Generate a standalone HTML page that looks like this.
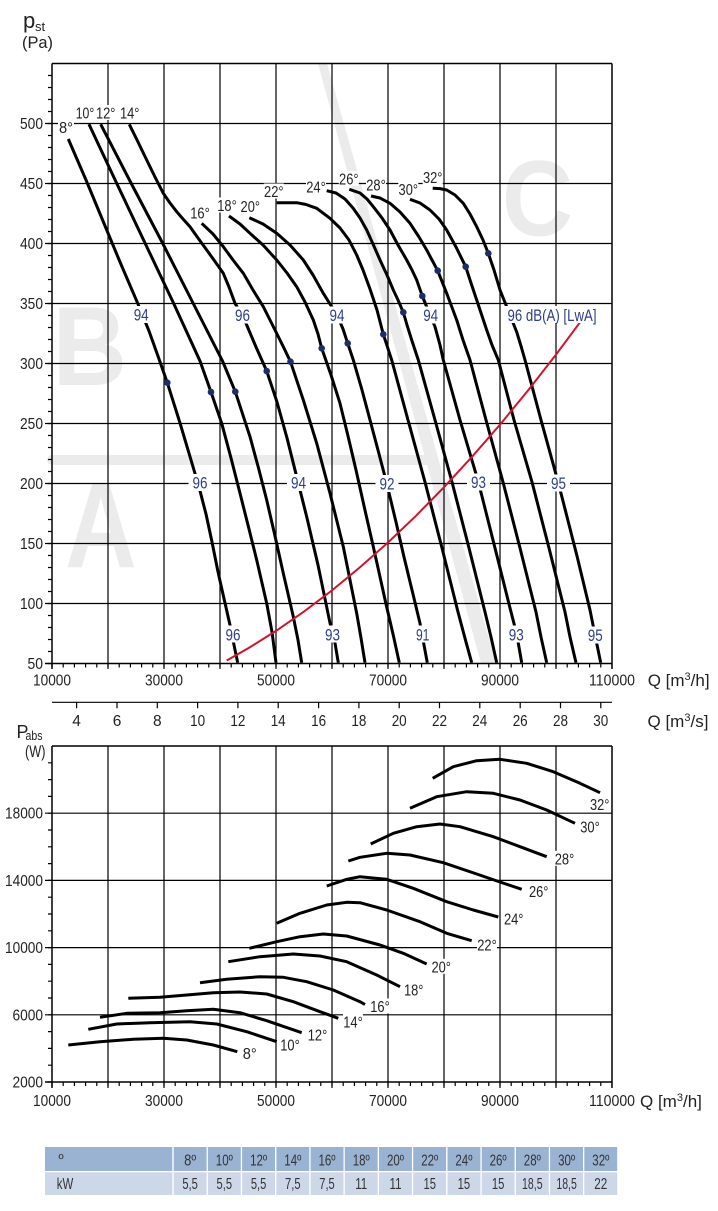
<!DOCTYPE html>
<html><head><meta charset="utf-8"><style>
html,body{margin:0;padding:0;background:#fff;}
svg{display:block;font-family:"Liberation Sans",Arial,sans-serif;}
</style></head><body>
<svg width="718" height="1211" viewBox="0 0 718 1211" xmlns="http://www.w3.org/2000/svg">
<rect width="718" height="1211" fill="#fff"/>
<!-- watermark -->
<g fill="#ebebeb">
<polygon points="318,63.5 327,63.5 496,663.5 481,663.5"/>
<rect x="47" y="455" width="385" height="10" rx="5"/>
<text transform="translate(52.5,385) scale(0.92,1)" font-size="112" font-weight="bold">B</text>
<text transform="translate(65,567) scale(0.82,1)" font-size="121" font-weight="bold">A</text>
<text transform="translate(502,235.4) scale(0.91,1)" font-size="108" font-weight="bold">C</text>
</g>
<!-- top chart grid -->
<g stroke="#000" stroke-width="1.2" fill="none">
<path d="M108 63.5V669M164 63.5V669M220 63.5V669M276 63.5V669M332 63.5V669M388 63.5V669M444 63.5V669M500 63.5V669M556 63.5V669"/>
<path d="M45 123.5H612M45 183.5H612M45 243.5H612M45 303.5H612M45 363.5H612M45 423.5H612M45 483.5H612M45 543.5H612M45 603.5H612"/>
<path stroke-width="1.5" d="M52 63.5H612M52 63.5V669M612 63.5V669M45 663.5H612"/>
<line x1="51.4" y1="665.5" x2="612" y2="665.5" stroke-width="4" stroke-dasharray="1.2 10"/>
<line x1="50" y1="664.1" x2="50" y2="70" stroke-width="4" stroke-dasharray="1.2 10.8"/>
<path d="M52 702.3H612M76.6 702.3v6M117 702.3v6M157.3 702.3v6M197.6 702.3v6M237.9 702.3v6M278.2 702.3v6M318.6 702.3v6M358.9 702.3v6M399.2 702.3v6M439.5 702.3v6M479.8 702.3v6M520.2 702.3v6M560.5 702.3v6M600.8 702.3v6"/>
</g>
<!-- bottom chart grid -->
<g stroke="#000" stroke-width="1.2" fill="none">
<path d="M108 746V1088M164 746V1088M220 746V1088M276 746V1088M332 746V1088M388 746V1088M444 746V1088M500 746V1088M556 746V1088"/>
<path d="M45 813.2H612M45 880.4H612M45 947.6H612M45 1014.8H612"/>
<path stroke-width="1.5" d="M52 746H612M52 746V1088M612 746V1088M45 1082H612"/>
<line x1="51.4" y1="1084" x2="612" y2="1084" stroke-width="4" stroke-dasharray="1.2 10"/>
<line x1="50" y1="1082.6" x2="50" y2="755" stroke-width="4" stroke-dasharray="1.2 15.6"/>
</g>
<!-- axis labels -->
<g font-size="15.5" fill="#222">
<g text-anchor="end">
<text x="43" y="129" textLength="23" lengthAdjust="spacingAndGlyphs">500</text><text x="43" y="189" textLength="23" lengthAdjust="spacingAndGlyphs">450</text><text x="43" y="249" textLength="23" lengthAdjust="spacingAndGlyphs">400</text><text x="43" y="309" textLength="23" lengthAdjust="spacingAndGlyphs">350</text><text x="43" y="369" textLength="23" lengthAdjust="spacingAndGlyphs">300</text><text x="43" y="429" textLength="23" lengthAdjust="spacingAndGlyphs">250</text><text x="43" y="489" textLength="23" lengthAdjust="spacingAndGlyphs">200</text><text x="43" y="549" textLength="23" lengthAdjust="spacingAndGlyphs">150</text><text x="43" y="609" textLength="23" lengthAdjust="spacingAndGlyphs">100</text><text x="43" y="669" textLength="15.5" lengthAdjust="spacingAndGlyphs">50</text>
<text x="43" y="818.7" textLength="38" lengthAdjust="spacingAndGlyphs">18000</text><text x="43" y="885.9" textLength="38" lengthAdjust="spacingAndGlyphs">14000</text><text x="43" y="953.1" textLength="38" lengthAdjust="spacingAndGlyphs">10000</text><text x="43" y="1020.3" textLength="30.5" lengthAdjust="spacingAndGlyphs">6000</text><text x="43" y="1087.5" textLength="30.5" lengthAdjust="spacingAndGlyphs">2000</text>
</g>
<g text-anchor="middle">
<text x="52" y="685.5" textLength="38" lengthAdjust="spacingAndGlyphs">10000</text><text x="164" y="685.5" textLength="38" lengthAdjust="spacingAndGlyphs">30000</text><text x="276" y="685.5" textLength="38" lengthAdjust="spacingAndGlyphs">50000</text><text x="388" y="685.5" textLength="38" lengthAdjust="spacingAndGlyphs">70000</text><text x="500" y="685.5" textLength="38" lengthAdjust="spacingAndGlyphs">90000</text><text x="612" y="685.5" textLength="46" lengthAdjust="spacingAndGlyphs">110000</text>
<text x="52" y="1106" textLength="38" lengthAdjust="spacingAndGlyphs">10000</text><text x="164" y="1106" textLength="38" lengthAdjust="spacingAndGlyphs">30000</text><text x="276" y="1106" textLength="38" lengthAdjust="spacingAndGlyphs">50000</text><text x="388" y="1106" textLength="38" lengthAdjust="spacingAndGlyphs">70000</text><text x="500" y="1106" textLength="38" lengthAdjust="spacingAndGlyphs">90000</text><text x="612" y="1106" textLength="46" lengthAdjust="spacingAndGlyphs">110000</text>
<text x="76.6" y="726">4</text><text x="117" y="726">6</text><text x="157.3" y="726">8</text><text x="197.6" y="726" textLength="15" lengthAdjust="spacingAndGlyphs">10</text><text x="237.9" y="726" textLength="15" lengthAdjust="spacingAndGlyphs">12</text><text x="278.2" y="726" textLength="15" lengthAdjust="spacingAndGlyphs">14</text><text x="318.6" y="726" textLength="15" lengthAdjust="spacingAndGlyphs">16</text><text x="358.9" y="726" textLength="15" lengthAdjust="spacingAndGlyphs">18</text><text x="399.2" y="726" textLength="15" lengthAdjust="spacingAndGlyphs">20</text><text x="439.5" y="726" textLength="15" lengthAdjust="spacingAndGlyphs">22</text><text x="479.8" y="726" textLength="15" lengthAdjust="spacingAndGlyphs">24</text><text x="520.2" y="726" textLength="15" lengthAdjust="spacingAndGlyphs">26</text><text x="560.5" y="726" textLength="15" lengthAdjust="spacingAndGlyphs">28</text><text x="600.8" y="726" textLength="15" lengthAdjust="spacingAndGlyphs">30</text>
</g>
</g>
<g fill="#222" font-size="17">
<text x="647.7" y="686">Q [m<tspan font-size="11" dy="-6">3</tspan><tspan dy="6">/h]</tspan></text>
<text x="647.5" y="727">Q [m<tspan font-size="11" dy="-6">3</tspan><tspan dy="6">/s]</tspan></text>
<text x="640" y="1107">Q [m<tspan font-size="11" dy="-6">3</tspan><tspan dy="6">/h]</tspan></text>
<text x="23" y="28" font-size="22">p</text><text x="35" y="31" font-size="13">st</text>
<text x="22" y="48" textLength="31" lengthAdjust="spacingAndGlyphs">(Pa)</text>
<text x="16.5" y="738" font-size="18">P</text><text x="25.5" y="740" font-size="12.5" textLength="17" lengthAdjust="spacingAndGlyphs">abs</text>
<text x="25" y="757" textLength="20.5" lengthAdjust="spacingAndGlyphs">(W)</text>
</g>
<!-- top curves -->
<g fill="none" stroke="#000" stroke-width="3" stroke-linejoin="round">
<polyline points="68.3,139 86,180 103,221 120,262 137.7,303.3 149,331 158.3,357 167.3,382.7 180,423 191,460 199,487 206,514 212,542 218.3,573.3 225,603 230,625 234,645 237.7,662.7"/>
<polyline points="89,124.3 117,184 145,243 173,302 200,361 211,392 221.7,423.3 231,458 240,493.3 248.5,527 256.7,560 266.7,603.3 272,632 276,662.7"/>
<polyline points="100.7,124.3 131,183 162,242 192,301 222.5,361 235.3,391.7 250,436.7 258.5,468 266.7,500 275,536 283.3,573.3 293.3,616.7 298,640 301.7,662.7"/>
<polyline points="129.3,124.3 138,142 146.7,160 155,177 163.3,193.3 170,203 176.7,211.7 183,219 190,226.7 198,238 206.7,250 215,261.5 223.3,273.3 229,287 235,303.3 242,315 246.7,325 256,347 266.7,371 277,402 287,438 297,478 307,518 318,565 330,623 335,643 338.3,662.7"/>
<polyline points="201.7,223.3 213,234 223.3,246.7 233,260 243.3,273.3 253,290 263.3,306.7 273,326 283.3,346.7 290.5,361.7 303.3,400 316.7,443.3 330,493.3 343.3,546.7 350,580 356.7,613.3 361,638 365,662.7"/>
<polyline points="229,216 240,224 250,233.3 263,245 276.7,260 287,273 296.7,286.7 305,302 313.3,320 318,334 321.7,348.3 331,375 340,403.3 348,436 356,470 364.5,508 373.3,546.7 386,604 393,634 399.3,662.7"/>
<polyline points="249.3,217.7 263,224 276.7,233.3 290,245 303.3,260 313,275 323.3,293.3 330,304 337,315 343,329 347.7,343.3 353.3,360 362,390 370,420 378.5,452 386.7,483.3 396,522 404,557 412,590 420,623.3 424,645 427.3,662.7"/>
<polyline points="276.7,202.7 296.7,202.7 306,204.5 316.7,208.3 330,218.3 340,228 349,240 356.7,255 363,270 370,289 377,310 383.3,334.3 391.7,360 408,420 425,482 442,548 458,612 466,642 471.7,662.7"/>
<polyline points="326.7,190.7 336,193 345,199 353,208 360,218 366.7,230 373,244 380,260 387,275 393.3,290 398,300 403.3,312.3 407,325 411.7,340 418.3,360 435,420 452,482 469,548 485,612 491,637 496.7,662.7"/>
<polyline points="349.3,189.3 360,193 367,199 373.3,206.7 382,218 390,230 398,245 406.7,260 412,270 416.7,280 422.3,296 430,315 435,326.7 440,345 443.3,360 460,420 478.3,481.7 497,556 510,608 516.7,634 521.7,662.7"/>
<polyline points="371,196 380,198 390,203.3 400,212 410,223.3 419,237 426.7,250 432,260 437.7,270.7 446.7,293.3 456.7,320 463,340 470,360 486,420 503,482 520,548 536,612 541,637 546.7,662.7"/>
<polyline points="410,199.3 420,203 430,210 439,219 446.7,230 456,247 465.7,266.7 471,283 476.7,300 486.7,330 492,345 498.3,360 514,420 532,482 549,548 565,612 570,637 576,662.7"/>
<polyline points="432.7,188.3 440,188.6 446.7,190 455,195 463.3,203.3 470,214 476.7,226.7 483,240 488.3,253.3 494,270 500,290 506,305 510,315 516.7,332 521,346 525,360 541,420 558.3,482.7 577,556 590,610 595,635 600.7,662.7"/>
</g>
<polyline fill="none" stroke="#d4122c" stroke-width="2" points="226.7,660.5 248,648.4 276,630.9 304,611.6 332,590.4 360,567.3 388,542.5 416,515.8 444,487.2 472,456.8 500,424.6 528,390.5 556,354.6 580.1,322.2"/>
<g fill="#1c2c6c">
<circle cx="167.3" cy="382.7" r="3.3"/><circle cx="211" cy="392" r="3.3"/><circle cx="235.3" cy="391.7" r="3.3"/><circle cx="266.7" cy="371" r="3.3"/><circle cx="290.5" cy="361.7" r="3.3"/><circle cx="321.7" cy="348.3" r="3.3"/><circle cx="347.7" cy="343.3" r="3.3"/><circle cx="383.3" cy="334.3" r="3.3"/><circle cx="403.3" cy="312.3" r="3.3"/><circle cx="422.3" cy="296" r="3.3"/><circle cx="437.7" cy="270.7" r="3.3"/><circle cx="465.7" cy="266.7" r="3.3"/><circle cx="488.3" cy="253.3" r="3.3"/>
</g>
<!-- bottom curves -->
<g fill="none" stroke="#000" stroke-width="3" stroke-linejoin="round">
<polyline points="68.3,1045 100,1041.7 133.3,1039.3 163.3,1038.3 186.7,1040 213.3,1045 237.3,1051.7"/>
<polyline points="88.3,1029.3 116.7,1024 150,1022.7 190,1021.7 216.7,1024 246.7,1031.7 276.7,1041.7"/>
<polyline points="100,1017.3 126.7,1013.3 160,1012.7 186.7,1010.7 213.3,1009.3 240,1012.7 266.7,1020.7 301.7,1032.7"/>
<polyline points="128.3,998.3 160,997.3 186.7,995 213.3,992.7 240,992 266.7,994 293.3,1001.7 320,1011.7 338.3,1018.3"/>
<polyline points="200,982.7 226.7,979.3 260,976.7 283.3,977.3 306.7,981.7 333.3,990 360,1001.7 365,1004.5"/>
<polyline points="228.3,961.7 260,956.7 293.3,954 320,956 346.7,961.7 376.7,975 400,986.7"/>
<polyline points="249.3,948.3 276.7,941.7 300,936.7 323.3,934 346.7,936 380,945 403.3,953.3 426.7,964"/>
<polyline points="276.7,923.3 300,913.3 326.7,905 346.7,902.3 360,902.7 386.7,910 420,921.7 446.7,933.3 471.7,940.7"/>
<polyline points="326.7,886 346.7,879.3 360,876.7 386.7,879.3 413.3,888.3 446.7,901.7 473.3,910 498.3,917"/>
<polyline points="348.3,861 360,857.3 386.7,853.3 410,855 443.3,862.7 476.7,874 500,882 521.7,889.3"/>
<polyline points="370.7,844 393.3,833.3 416.7,826.7 440,824 460,826.7 493.3,836.7 520,846.7 546.7,856.7"/>
<polyline points="410,808.3 436.7,796.7 466.7,791.7 493.3,793.3 520,800 546.7,810 575,823.3"/>
<polyline points="432.7,778.3 453.3,766.7 476.7,760.7 500,759.3 526.7,763.3 553.3,771.7 580,783.3 600,792.7"/>
</g>
<!-- label backgrounds -->
<g fill="#fff">
<rect x="58" y="119.5" width="16" height="15"/><rect x="75" y="105" width="20" height="15"/><rect x="95.7" y="105" width="20" height="15"/><rect x="119.7" y="105" width="20" height="15"/>
<rect x="190" y="205" width="20" height="15"/><rect x="217" y="197.5" width="20" height="15"/><rect x="240.3" y="198.5" width="20" height="15"/><rect x="263.8" y="183.5" width="20" height="15"/>
<rect x="306" y="178.8" width="20" height="15"/><rect x="338.8" y="170.8" width="20" height="15"/><rect x="366" y="177" width="20" height="15"/><rect x="398.3" y="181.5" width="20" height="15"/><rect x="422.7" y="169.5" width="20" height="15"/>
<rect x="131" y="306" width="21" height="17"/><rect x="232" y="306.5" width="21" height="17"/><rect x="326.5" y="306.5" width="21" height="17"/><rect x="420" y="306.5" width="21" height="17"/><rect x="505" y="306" width="94" height="17"/>
<rect x="188.5" y="474" width="23" height="17"/><rect x="287" y="474" width="23" height="17"/><rect x="375.5" y="475" width="23" height="17"/><rect x="467" y="473.5" width="23" height="17"/><rect x="547" y="474.5" width="23" height="17"/>
<rect x="222.5" y="625.5" width="21" height="17"/><rect x="322" y="625.5" width="21" height="17"/><rect x="412" y="625.5" width="21" height="17"/><rect x="506" y="625.5" width="21" height="17"/><rect x="585" y="626.5" width="21" height="17"/>
<rect x="242.7" y="1045.5" width="16" height="15"/><rect x="280" y="1036.8" width="20" height="15"/><rect x="307.5" y="1026.8" width="20" height="15"/><rect x="343" y="1014" width="20" height="15"/><rect x="370" y="998.5" width="20" height="15"/><rect x="403.7" y="981.8" width="20" height="15"/><rect x="431.2" y="958.8" width="20" height="15"/><rect x="477" y="937" width="20" height="15"/><rect x="503.7" y="910.8" width="20" height="15"/><rect x="528.7" y="883.7" width="20" height="15"/><rect x="554.5" y="850.8" width="20" height="15"/><rect x="580" y="818.8" width="20" height="15"/><rect x="589.7" y="796.3" width="20" height="15"/>
</g>
<!-- degree labels -->
<g font-size="16" fill="#222" text-anchor="middle">
<text x="66" y="133" textLength="14" lengthAdjust="spacingAndGlyphs">8°</text>
<text x="85" y="118.5" textLength="18.5" lengthAdjust="spacingAndGlyphs">10°</text>
<text x="105.7" y="118.5" textLength="19.5" lengthAdjust="spacingAndGlyphs">12°</text>
<text x="129.7" y="118.5" textLength="19.5" lengthAdjust="spacingAndGlyphs">14°</text>
<text x="200" y="218.5" textLength="19.5" lengthAdjust="spacingAndGlyphs">16°</text>
<text x="227" y="211" textLength="19.5" lengthAdjust="spacingAndGlyphs">18°</text>
<text x="250.3" y="212" textLength="19.5" lengthAdjust="spacingAndGlyphs">20°</text>
<text x="273.8" y="197" textLength="19.5" lengthAdjust="spacingAndGlyphs">22°</text>
<text x="316" y="192.3" textLength="19.5" lengthAdjust="spacingAndGlyphs">24°</text>
<text x="348.8" y="184.3" textLength="19.5" lengthAdjust="spacingAndGlyphs">26°</text>
<text x="376" y="190.5" textLength="19.5" lengthAdjust="spacingAndGlyphs">28°</text>
<text x="408.3" y="195" textLength="19.5" lengthAdjust="spacingAndGlyphs">30°</text>
<text x="432.7" y="183" textLength="19.5" lengthAdjust="spacingAndGlyphs">32°</text>
<text x="249.7" y="1059" textLength="14" lengthAdjust="spacingAndGlyphs">8°</text>
<text x="290" y="1050.3" textLength="19.5" lengthAdjust="spacingAndGlyphs">10°</text>
<text x="317.5" y="1040.3" textLength="19.5" lengthAdjust="spacingAndGlyphs">12°</text>
<text x="353" y="1027.5" textLength="19.5" lengthAdjust="spacingAndGlyphs">14°</text>
<text x="380" y="1012" textLength="19.5" lengthAdjust="spacingAndGlyphs">16°</text>
<text x="413.7" y="995.3" textLength="19.5" lengthAdjust="spacingAndGlyphs">18°</text>
<text x="441.2" y="972.3" textLength="19.5" lengthAdjust="spacingAndGlyphs">20°</text>
<text x="487" y="950.5" textLength="19.5" lengthAdjust="spacingAndGlyphs">22°</text>
<text x="513.7" y="924.3" textLength="19.5" lengthAdjust="spacingAndGlyphs">24°</text>
<text x="538.7" y="897.2" textLength="19.5" lengthAdjust="spacingAndGlyphs">26°</text>
<text x="564.5" y="864.3" textLength="19.5" lengthAdjust="spacingAndGlyphs">28°</text>
<text x="590" y="832.3" textLength="19.5" lengthAdjust="spacingAndGlyphs">30°</text>
<text x="599.7" y="809.8" textLength="19.5" lengthAdjust="spacingAndGlyphs">32°</text>
</g>
<!-- dB labels -->
<g font-size="17" fill="#2d3e8c" text-anchor="middle">
<text x="141.2" y="320.5" textLength="15" lengthAdjust="spacingAndGlyphs">94</text>
<text x="242.5" y="321" textLength="15" lengthAdjust="spacingAndGlyphs">96</text>
<text x="337" y="321" textLength="15" lengthAdjust="spacingAndGlyphs">94</text>
<text x="430.7" y="321" textLength="15" lengthAdjust="spacingAndGlyphs">94</text>
<text x="552" y="320.8" textLength="89" lengthAdjust="spacingAndGlyphs">96 dB(A) [LwA]</text>
<text x="200" y="488.5" textLength="15" lengthAdjust="spacingAndGlyphs">96</text>
<text x="298.5" y="488.5" textLength="15" lengthAdjust="spacingAndGlyphs">94</text>
<text x="387" y="489.5" textLength="15" lengthAdjust="spacingAndGlyphs">92</text>
<text x="478.5" y="488" textLength="15" lengthAdjust="spacingAndGlyphs">93</text>
<text x="558.5" y="489" textLength="15" lengthAdjust="spacingAndGlyphs">95</text>
<text x="233" y="640.3" textLength="15" lengthAdjust="spacingAndGlyphs">96</text>
<text x="332.5" y="640.3" textLength="15" lengthAdjust="spacingAndGlyphs">93</text>
<text x="422.7" y="640.5" textLength="13.5" lengthAdjust="spacingAndGlyphs">91</text>
<text x="516.3" y="640.5" textLength="15" lengthAdjust="spacingAndGlyphs">93</text>
<text x="595.3" y="641" textLength="15" lengthAdjust="spacingAndGlyphs">95</text>
</g>
<!-- table -->
<g>
<rect x="45" y="1147" width="127.3" height="24" fill="#9bb3d2"/>
<rect x="45" y="1172.3" width="127.3" height="22.7" fill="#ccd7e8"/>
<g fill="#9bb3d2">
<rect x="173.7" y="1147" width="32.9" height="24"/><rect x="207.9" y="1147" width="32.9" height="24"/><rect x="242.1" y="1147" width="32.9" height="24"/><rect x="276.4" y="1147" width="32.9" height="24"/><rect x="310.6" y="1147" width="32.9" height="24"/><rect x="344.8" y="1147" width="32.9" height="24"/><rect x="379" y="1147" width="32.9" height="24"/><rect x="413.2" y="1147" width="32.9" height="24"/><rect x="447.5" y="1147" width="32.9" height="24"/><rect x="481.7" y="1147" width="32.9" height="24"/><rect x="515.9" y="1147" width="32.9" height="24"/><rect x="550.1" y="1147" width="32.9" height="24"/><rect x="584.3" y="1147" width="32.9" height="24"/>
</g>
<g fill="#ccd7e8">
<rect x="173.7" y="1172.3" width="32.9" height="22.7"/><rect x="207.9" y="1172.3" width="32.9" height="22.7"/><rect x="242.1" y="1172.3" width="32.9" height="22.7"/><rect x="276.4" y="1172.3" width="32.9" height="22.7"/><rect x="310.6" y="1172.3" width="32.9" height="22.7"/><rect x="344.8" y="1172.3" width="32.9" height="22.7"/><rect x="379" y="1172.3" width="32.9" height="22.7"/><rect x="413.2" y="1172.3" width="32.9" height="22.7"/><rect x="447.5" y="1172.3" width="32.9" height="22.7"/><rect x="481.7" y="1172.3" width="32.9" height="22.7"/><rect x="515.9" y="1172.3" width="32.9" height="22.7"/><rect x="550.1" y="1172.3" width="32.9" height="22.7"/><rect x="584.3" y="1172.3" width="32.9" height="22.7"/>
</g>
<g font-size="15.5" fill="#333" text-anchor="middle">
<text x="61" y="1163.5" font-size="14">º</text>
<text x="65" y="1189" textLength="16.5" lengthAdjust="spacingAndGlyphs">kW</text>
<text x="190.1" y="1165.5" textLength="12" lengthAdjust="spacingAndGlyphs">8º</text>
<text x="224.3" y="1165.5" textLength="17" lengthAdjust="spacingAndGlyphs">10º</text>
<text x="258.6" y="1165.5" textLength="17" lengthAdjust="spacingAndGlyphs">12º</text>
<text x="292.8" y="1165.5" textLength="17" lengthAdjust="spacingAndGlyphs">14º</text>
<text x="327" y="1165.5" textLength="17" lengthAdjust="spacingAndGlyphs">16º</text>
<text x="361.2" y="1165.5" textLength="17" lengthAdjust="spacingAndGlyphs">18º</text>
<text x="395.5" y="1165.5" textLength="17" lengthAdjust="spacingAndGlyphs">20º</text>
<text x="429.7" y="1165.5" textLength="17" lengthAdjust="spacingAndGlyphs">22º</text>
<text x="463.9" y="1165.5" textLength="17" lengthAdjust="spacingAndGlyphs">24º</text>
<text x="498.1" y="1165.5" textLength="17" lengthAdjust="spacingAndGlyphs">26º</text>
<text x="532.3" y="1165.5" textLength="17" lengthAdjust="spacingAndGlyphs">28º</text>
<text x="566.6" y="1165.5" textLength="17" lengthAdjust="spacingAndGlyphs">30º</text>
<text x="600.8" y="1165.5" textLength="17" lengthAdjust="spacingAndGlyphs">32º</text>
<text x="190.1" y="1189" textLength="15.5" lengthAdjust="spacingAndGlyphs">5,5</text>
<text x="224.3" y="1189" textLength="15.5" lengthAdjust="spacingAndGlyphs">5,5</text>
<text x="258.6" y="1189" textLength="15.5" lengthAdjust="spacingAndGlyphs">5,5</text>
<text x="292.8" y="1189" textLength="15.5" lengthAdjust="spacingAndGlyphs">7,5</text>
<text x="327" y="1189" textLength="15.5" lengthAdjust="spacingAndGlyphs">7,5</text>
<text x="361.2" y="1189" textLength="12" lengthAdjust="spacingAndGlyphs">11</text>
<text x="395.5" y="1189" textLength="12" lengthAdjust="spacingAndGlyphs">11</text>
<text x="429.7" y="1189" textLength="12.5" lengthAdjust="spacingAndGlyphs">15</text>
<text x="463.9" y="1189" textLength="12.5" lengthAdjust="spacingAndGlyphs">15</text>
<text x="498.1" y="1189" textLength="12.5" lengthAdjust="spacingAndGlyphs">15</text>
<text x="532.3" y="1189" textLength="20.5" lengthAdjust="spacingAndGlyphs">18,5</text>
<text x="566.6" y="1189" textLength="20.5" lengthAdjust="spacingAndGlyphs">18,5</text>
<text x="600.8" y="1189" textLength="13" lengthAdjust="spacingAndGlyphs">22</text>
</g>
</g>
</svg>
</body></html>
